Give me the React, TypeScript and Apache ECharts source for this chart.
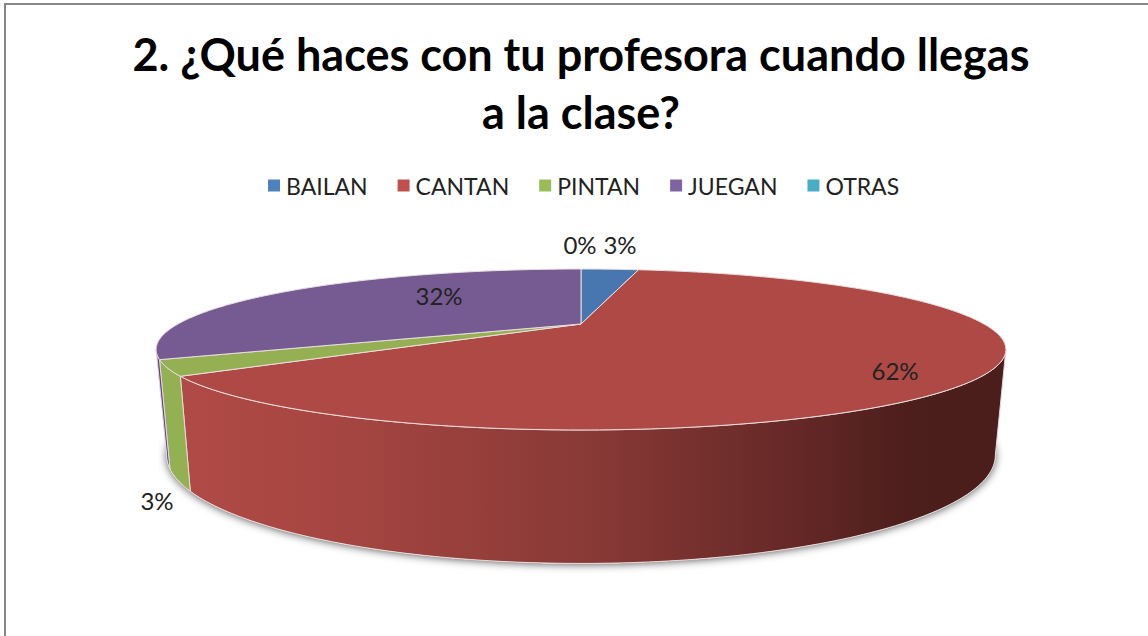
import React, { useEffect, useRef } from "react";
import * as echarts from "echarts";

const titleText = "2. ¿Qué haces con tu profesora cuando llegas\na la clase?";
const categories = ["BAILAN", "CANTAN", "PINTAN", "JUEGAN", "OTRAS"];
const values = [3, 62, 3, 32, 0];

const legendColors = ["#4F81BD", "#C0504D", "#9BBB59", "#8064A2", "#4BACC6"];
const faceColors = ["#4877B0", "#AE4946", "#94B052", "#765A92", "#45A0B8"];
const wallColors = ["#3A6090", "#A6453F", "#93B052", "#5F4590", "#3A8CA0"];

const CX = 581;
const topFace = { k: 403, h: 72.4, p: 0.3168, y0: 324 };
const bottomFace = { k: 393, h: 97.3, p: 0.3168, y0: 421 };
const SILHOUETTE = Math.acos(-topFace.p);
const FONT = "Lato";

// Label centres on the picture for each slice, in category order
const labelAnchors = [
  [620, 244],
  [895, 370],
  [157, 500],
  [439, 295],
  [580, 244],
];

const total = values.reduce((a, b) => a + b, 0);

function project(theta: number, f: typeof topFace): number[] {
  const u = Math.sin(theta);
  const v = Math.cos(theta);
  const d = 1 + f.p * v;
  return [CX + (f.k * u) / d, f.y0 - (f.h * v) / d];
}

function arc(a: number, b: number, f: typeof topFace): number[][] {
  const pts: number[][] = [];
  const n = Math.max(1, Math.ceil(Math.abs(b - a) / (Math.PI / 180)));
  for (let i = 0; i <= n; i++) pts.push(project(a + ((b - a) * i) / n, f));
  return pts;
}

function sliceAngles(index: number): [number, number] {
  let before = 0;
  for (let i = 0; i < index; i++) before += values[i];
  return [(before / total) * 2 * Math.PI, ((before + values[index]) / total) * 2 * Math.PI];
}

function makeRenderItem(index: number) {
  return (_params: any, api: any) => {
    const value = api.value(0);
    const [a, b] = sliceAngles(index);
    const children: any[] = [];

    if (index === 0) {
      children.push({
        type: "polygon",
        shape: { points: arc(0, 2 * Math.PI, bottomFace) },
        style: {
          fill: "#ffffff",
          shadowColor: "rgba(0,0,0,0.65)",
          shadowBlur: 9,
          shadowOffsetX: 0,
          shadowOffsetY: 1,
        },
      });
    }

    const wa = Math.max(a, SILHOUETTE);
    const wb = Math.min(b, 2 * Math.PI - SILHOUETTE);
    if (value > 0 && wb > wa) {
      const fill =
        index === 1
          ? new echarts.graphic.LinearGradient(
              183,
              0,
              1007,
              0,
              [
                { offset: 0, color: "#B04A46" },
                { offset: 0.2, color: "#A54541" },
                { offset: 0.5, color: "#883936" },
                { offset: 0.75, color: "#642826" },
                { offset: 0.88, color: "#4C1E1C" },
                { offset: 1, color: "#4A1E1C" },
              ],
              true
            )
          : wallColors[index];
      children.push({
        type: "polygon",
        shape: { points: [...arc(wa, wb, topFace), ...arc(wb, wa, bottomFace)] },
        style: { fill, stroke: "#E6DADA", lineWidth: 1 },
      });
    }

    if (value > 0) {
      children.push({
        type: "polygon",
        shape: { points: [[CX, topFace.y0], ...arc(a, b, topFace)] },
        style: { fill: faceColors[index], stroke: "#E9DEDE", lineWidth: 1 },
      });
    }

    const [lx, ly] = labelAnchors[index];
    children.push({
      type: "text",
      x: lx,
      y: ly,
      z2: 10,
      style: {
        text: `${value}%`,
        fontFamily: FONT,
        fontSize: 24,
        fill: "#222222",
        align: "center",
        verticalAlign: "middle",
      },
    });
    return { type: "group", children };
  };
}

export default function App() {
  const ref = useRef<HTMLDivElement>(null);
  useEffect(() => {
    document.body.style.margin = "0";
    const chart = echarts.init(ref.current!, null, { renderer: "svg" });
    chart.setOption({
      animation: false,
      backgroundColor: "#ffffff",
      title: {
        text: titleText,
        left: 576,
        top: 20,
        textAlign: "center",
        textStyle: {
          fontFamily: FONT,
          fontWeight: "bold",
          fontSize: 45,
          lineHeight: 58,
          color: "#000000",
        },
      },
      legend: {
        data: categories,
        left: 268,
        top: 174,
        padding: 0,
        icon: "rect",
        itemWidth: 12,
        itemHeight: 12,
        itemGap: 30,
        textStyle: { fontFamily: FONT, fontSize: 23, color: "#222222", padding: [0, 0, 0, 1] },
      },
      graphic: [
        {
          type: "polyline",
          silent: true,
          shape: { points: [[5, 636], [5, 4], [1148, 4]] },
          style: { fill: "none", stroke: "#868686", lineWidth: 2 },
        },
      ],
      series: categories.map((name, i) => ({
        type: "custom",
        name,
        coordinateSystem: "none",
        silent: true,
        itemStyle: { color: legendColors[i] },
        renderItem: makeRenderItem(i),
        data: [values[i]],
      })),
    });
    return () => chart.dispose();
  }, []);
  return <div ref={ref} style={{ width: 1148, height: 636 }} />;
}
